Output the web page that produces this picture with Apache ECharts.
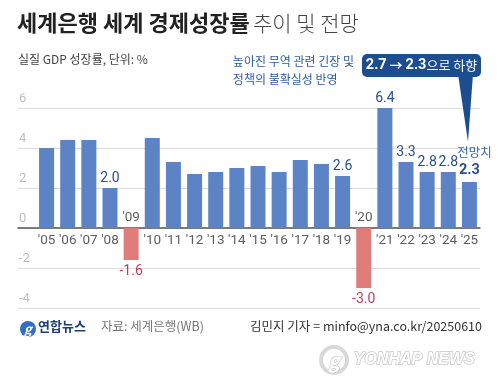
<!DOCTYPE html>
<html><head><meta charset="utf-8">
<script src="https://cdn.jsdelivr.net/npm/echarts@6/dist/echarts.min.js"></script>
<style>html,body{margin:0;padding:0;background:#fff}#c{width:500px;height:392px}</style>
</head><body><div id="c"></div>
<script>
const years = ["'05","'06","'07","'08","'09","'10","'11","'12","'13","'14","'15","'16","'17","'18","'19","'20","'21","'22","'23","'24","'25"];
const growth = [4.0,4.4,4.4,2.0,-1.6,4.5,3.3,2.7,2.8,3.0,3.1,2.8,3.4,3.2,2.6,-3.0,6.4,3.3,2.8,2.8,2.3];
const labeledYears = ["'08","'09","'19","'20","'21","'22","'23","'24","'25"];
const forecastYear = "'25";
const yTicks = [-4,-2,0,2,4,6];

const F = "'Noto Sans CJK KR','Noto Sans',sans-serif";
const FN = "Roboto,'Noto Sans',sans-serif";
const BLUE = '#5b83c6', RED = '#e07c7a', LBLUE = '#2b4f8e', LRED = '#c23f58';

const barData = growth.map((v,i)=>{
  const y = years[i];
  const item = {value:v, itemStyle:{color: v<0?RED:BLUE}};
  if (labeledYears.includes(y)) {
    const neg = v<0;
    item.label = {show:true, position: neg?'bottom':'top', distance: neg?4:3,
      fontFamily:FN, fontSize:14, color: neg?LRED:LBLUE,
      formatter: p => v.toFixed(1)};
    if (y===forecastYear) {
      item.label.formatter = '{a|전망치}\n{b|'+v.toFixed(1)+'}';
      item.label.rich = {a:{fontFamily:F,fontSize:12.5,color:'#3a65a8',lineHeight:18,padding:[0,0,0,10]},
                         b:{fontFamily:FN,fontSize:14.5,fontWeight:'bold',color:LBLUE,lineHeight:18}};
    }
  }
  return item;
});
const yearLabelData = growth.map((v,i)=>({value:[years[i],0],
  label:{show:true, position: v<0?'top':'bottom', distance: v<0?3:6, formatter: years[i],
    fontFamily:FN, fontSize:13.5, color:'#333'}}));

const chart = echarts.init(document.getElementById('c'), null, {renderer:'canvas'});
chart.setOption({
  animation:false,
  grid:[{left:36,right:20,top:108,height:200},{left:18,right:20,top:108,height:200}],
  xAxis:[
    {type:'category',data:years,gridIndex:0,axisLine:{show:false},axisTick:{show:false},axisLabel:{show:false}},
    {type:'category',data:[''],gridIndex:1,axisLine:{show:true,onZero:true,lineStyle:{color:'#555',width:1.5}},axisTick:{show:false},axisLabel:{show:false}}
  ],
  yAxis:[
    {type:'value',gridIndex:0,min:yTicks[0],max:yTicks[yTicks.length-1],interval:2,show:false,splitLine:{show:false}},
    {type:'value',gridIndex:1,min:yTicks[0],max:yTicks[yTicks.length-1],interval:2,
      axisLine:{show:false},axisTick:{show:false},
      splitLine:{show:true,lineStyle:{color:'#dcdcdc',width:1}},
      axisLabel:{inside:true,margin:1,verticalAlign:'bottom',align:'left',color:'#bdbdbd',fontFamily:FN,fontSize:13,padding:[0,0,3,0]}}
  ],
  series:[
    {type:'bar',xAxisIndex:0,yAxisIndex:0,data:barData,barWidth:15,z:3},
    {type:'scatter',xAxisIndex:0,yAxisIndex:0,data:yearLabelData,symbolSize:0,silent:true,z:4}
  ],
  graphic:[
    {type:'text',left:17,top:12,style:{text:'{b|세계은행 세계 경제성장률} {l|추이 및 전망}',
      rich:{b:{fontFamily:F,fontSize:22,fontWeight:'bold',fill:'#222'},l:{fontFamily:F,fontSize:21,fontWeight:300,fill:'#444'}}}},
    {type:'text',left:18,top:53,style:{text:'실질 GDP 성장률, 단위: %',fontFamily:F,fontSize:12,fill:'#444'}},
    {type:'text',right:146,top:52,style:{text:'높아진 무역 관련 긴장 및\n정책의 불확실성 반영',fontFamily:F,fontSize:12,fill:'#2c5ca6',align:'right',lineHeight:18}},
    {type:'polygon',shape:{points:[[458,74],[473,74],[468,142]]},style:{fill:'#1b4d8f'},z:10},
    {type:'rect',shape:{x:362,y:54,width:119,height:23,r:5},style:{fill:'#1b4d8f'},z:10},
    {type:'text',x:421.5,y:65.5,z:11,style:{text:'{b|2.7}{a| → }{b|2.3}{r|으로 하향}',align:'center',verticalAlign:'middle',
      rich:{b:{fontFamily:FN,fontSize:14.5,fontWeight:'bold',fill:'#fff'},a:{fontFamily:F,fontSize:13,fontWeight:'bold',fill:'#fff'},r:{fontFamily:F,fontSize:13,fill:'#fff'}}}},
    // footer
    {type:'circle',shape:{cx:28,cy:329,r:8},style:{fill:'#2f6fc4'}},
    {type:'text',x:28,y:329,style:{text:'g',fontFamily:F,fontSize:13,fontStyle:'italic',fontWeight:'bold',fill:'#fff',align:'center',verticalAlign:'middle'}},
    {type:'text',left:38,top:320,style:{text:'연합뉴스',fontFamily:F,fontSize:13,fontWeight:'bold',fill:'#1d3f7a'}},
    {type:'text',left:101,top:320,style:{text:'자료: 세계은행(WB)',fontFamily:F,fontSize:12.5,fill:'#777'}},
    {type:'text',right:18,top:320,style:{text:'김민지 기자 = minfo@yna.co.kr/20250610',fontFamily:F,fontSize:12.5,fill:'#333'}},
    // watermark
    {type:'circle',shape:{cx:334,cy:360,r:13},style:{fill:'none',stroke:'#d8d8d8',lineWidth:4}},
    {type:'text',x:334,y:361,style:{text:'g',fontFamily:F,fontSize:19,fontStyle:'italic',fontWeight:'bold',fill:'#fff',stroke:'#cfcfcf',lineWidth:1.5,align:'center',verticalAlign:'middle'}},
    {type:'text',left:353,top:351,style:{text:'YONHAP NEWS',fontFamily:"'Liberation Sans',sans-serif",fontSize:16,fontStyle:'italic',fontWeight:'bold',fill:'#fff',stroke:'#c8c8c8',lineWidth:1.5}}
  ]
});
</script></body></html>
